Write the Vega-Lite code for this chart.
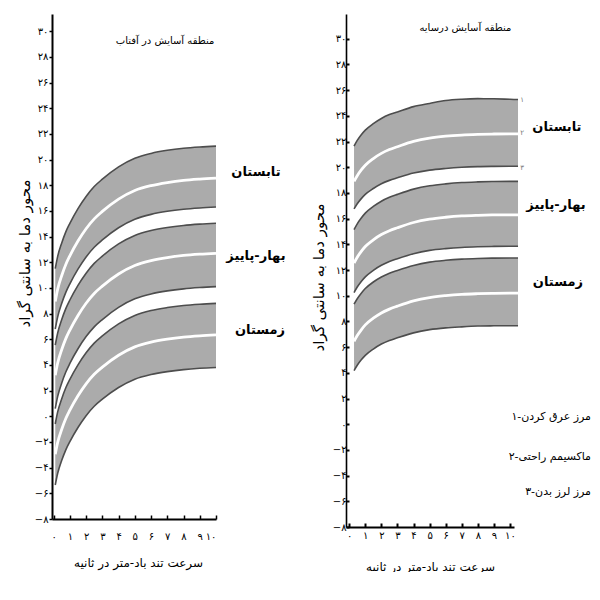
{
  "$schema": "https://vega.github.io/schema/vega-lite/v6.json",
  "background": "white",
  "padding": {"left": 17, "top": 14, "right": 0, "bottom": 0},
  "spacing": 130,
  "bounds": "flush",
  "config": {
    "view": {"stroke": null},
    "font": "DejaVu Sans",
    "axis": {"grid": false, "labelColor": "black", "titleColor": "black", "tickColor": "black", "domainColor": "black", "titleFontWeight": "normal", "labelFont": "DejaVu Sans", "titleFont": "DejaVu Sans"}
  },
  "datasets": {
    "left": [
      {"s":"S","x":0.1,"a":11.5,"b":8.95,"c":6.8},{"s":"S","x":0.25,"a":12.46,"b":9.91,"c":7.75},{"s":"S","x":0.5,"a":13.51,"b":10.97,"c":8.8},{"s":"S","x":0.75,"a":14.37,"b":11.83,"c":9.65},{"s":"S","x":1,"a":15.03,"b":12.5,"c":10.32},{"s":"S","x":1.5,"a":16.18,"b":13.65,"c":11.46},{"s":"S","x":2,"a":17.13,"b":14.61,"c":12.41},{"s":"S","x":2.5,"a":17.9,"b":15.38,"c":13.17},{"s":"S","x":3,"a":18.47,"b":15.96,"c":13.74},{"s":"S","x":4,"a":19.43,"b":16.92,"c":14.69},{"s":"S","x":5,"a":20.1,"b":17.59,"c":15.35},{"s":"S","x":6,"a":20.48,"b":17.97,"c":15.73},{"s":"S","x":7,"a":20.72,"b":18.21,"c":15.97},{"s":"S","x":8,"a":20.88,"b":18.38,"c":16.13},{"s":"S","x":9,"a":20.98,"b":18.48,"c":16.23},{"s":"S","x":10,"a":21.05,"b":18.55,"c":16.3},
      {"s":"B","x":0.1,"a":5.54,"b":3.2,"c":0.6},{"s":"B","x":0.25,"a":6.49,"b":4.15,"c":1.55},{"s":"B","x":0.5,"a":7.54,"b":5.2,"c":2.6},{"s":"B","x":0.75,"a":8.39,"b":6.05,"c":3.45},{"s":"B","x":1,"a":9.06,"b":6.72,"c":4.12},{"s":"B","x":1.5,"a":10.2,"b":7.86,"c":5.26},{"s":"B","x":2,"a":11.15,"b":8.81,"c":6.21},{"s":"B","x":2.5,"a":11.91,"b":9.57,"c":6.97},{"s":"B","x":3,"a":12.48,"b":10.14,"c":7.54},{"s":"B","x":4,"a":13.43,"b":11.09,"c":8.49},{"s":"B","x":5,"a":14.09,"b":11.75,"c":9.15},{"s":"B","x":6,"a":14.47,"b":12.13,"c":9.53},{"s":"B","x":7,"a":14.71,"b":12.37,"c":9.77},{"s":"B","x":8,"a":14.87,"b":12.53,"c":9.93},{"s":"B","x":9,"a":14.97,"b":12.63,"c":10.03},{"s":"B","x":10,"a":15.04,"b":12.7,"c":10.1},
      {"s":"Z","x":0.1,"a":-0.6,"b":-2.96,"c":-5.35},{"s":"Z","x":0.25,"a":0.34,"b":-2.03,"c":-4.44},{"s":"Z","x":0.5,"a":1.37,"b":-1.01,"c":-3.43},{"s":"Z","x":0.75,"a":2.22,"b":-0.17,"c":-2.61},{"s":"Z","x":1,"a":2.88,"b":0.48,"c":-1.97},{"s":"Z","x":1.5,"a":4.01,"b":1.6,"c":-0.87},{"s":"Z","x":2,"a":4.95,"b":2.53,"c":0.05},{"s":"Z","x":2.5,"a":5.7,"b":3.27,"c":0.78},{"s":"Z","x":3,"a":6.26,"b":3.83,"c":1.33},{"s":"Z","x":4,"a":7.2,"b":4.76,"c":2.24},{"s":"Z","x":5,"a":7.86,"b":5.41,"c":2.89},{"s":"Z","x":6,"a":8.24,"b":5.78,"c":3.25},{"s":"Z","x":7,"a":8.47,"b":6.01,"c":3.48},{"s":"Z","x":8,"a":8.63,"b":6.17,"c":3.64},{"s":"Z","x":9,"a":8.73,"b":6.27,"c":3.74},{"s":"Z","x":10,"a":8.8,"b":6.34,"c":3.8}
    ],
    "right": [
      {"s":"S","x":0.3,"a":21.65,"b":18.9,"c":16.76},{"s":"S","x":0.5,"a":22.09,"b":19.34,"c":17.16},{"s":"S","x":0.75,"a":22.53,"b":19.79,"c":17.56},{"s":"S","x":1,"a":22.89,"b":20.16,"c":17.89},{"s":"S","x":1.5,"a":23.4,"b":20.68,"c":18.35},{"s":"S","x":2,"a":23.8,"b":21.08,"c":18.72},{"s":"S","x":2.5,"a":24.1,"b":21.38,"c":18.98},{"s":"S","x":3,"a":24.31,"b":21.6,"c":19.18},{"s":"S","x":4,"a":24.72,"b":22.01,"c":19.55},{"s":"S","x":5,"a":24.97,"b":22.27,"c":19.78},{"s":"S","x":6,"a":25.2,"b":22.42,"c":19.91},{"s":"S","x":7,"a":25.3,"b":22.51,"c":20.0},{"s":"S","x":8,"a":25.34,"b":22.56,"c":20.05},{"s":"S","x":9,"a":25.33,"b":22.59,"c":20.07},{"s":"S","x":10,"a":25.29,"b":22.6,"c":20.08},{"s":"S","x":10.5,"a":25.27,"b":22.6,"c":20.08},
      {"s":"B","x":0.3,"a":15.15,"b":12.55,"c":10.25},{"s":"B","x":0.5,"a":15.6,"b":13.0,"c":10.68},{"s":"B","x":0.75,"a":16.05,"b":13.45,"c":11.11},{"s":"B","x":1,"a":16.43,"b":13.83,"c":11.47},{"s":"B","x":1.5,"a":16.95,"b":14.35,"c":11.98},{"s":"B","x":2,"a":17.36,"b":14.76,"c":12.37},{"s":"B","x":2.5,"a":17.66,"b":15.06,"c":12.66},{"s":"B","x":3,"a":17.89,"b":15.29,"c":12.88},{"s":"B","x":4,"a":18.3,"b":15.7,"c":13.27},{"s":"B","x":5,"a":18.56,"b":15.96,"c":13.53},{"s":"B","x":6,"a":18.71,"b":16.11,"c":13.67},{"s":"B","x":7,"a":18.81,"b":16.21,"c":13.76},{"s":"B","x":8,"a":18.86,"b":16.26,"c":13.81},{"s":"B","x":9,"a":18.89,"b":16.29,"c":13.84},{"s":"B","x":10,"a":18.9,"b":16.3,"c":13.85},{"s":"B","x":10.5,"a":18.9,"b":16.3,"c":13.85},
      {"s":"Z","x":0.3,"a":9.34,"b":6.45,"c":4.17},{"s":"Z","x":0.5,"a":9.77,"b":6.9,"c":4.59},{"s":"Z","x":0.75,"a":10.2,"b":7.35,"c":5.01},{"s":"Z","x":1,"a":10.56,"b":7.73,"c":5.36},{"s":"Z","x":1.5,"a":11.07,"b":8.25,"c":5.85},{"s":"Z","x":2,"a":11.46,"b":8.66,"c":6.24},{"s":"Z","x":2.5,"a":11.75,"b":8.96,"c":6.52},{"s":"Z","x":3,"a":11.97,"b":9.19,"c":6.73},{"s":"Z","x":4,"a":12.36,"b":9.6,"c":7.11},{"s":"Z","x":5,"a":12.62,"b":9.86,"c":7.36},{"s":"Z","x":6,"a":12.76,"b":10.01,"c":7.5},{"s":"Z","x":7,"a":12.85,"b":10.11,"c":7.58},{"s":"Z","x":8,"a":12.9,"b":10.16,"c":7.64},{"s":"Z","x":9,"a":12.93,"b":10.19,"c":7.66},{"s":"Z","x":10,"a":12.94,"b":10.2,"c":7.67},{"s":"Z","x":10.5,"a":12.94,"b":10.2,"c":7.67}
    ],
    "leftText": [
      {"k":"title","x":6.86,"y":29.26,"t":"منطقه آسایش در آفتاب"},
      {"k":"season","x":12.46,"y":19.03,"t":"تابستان"},
      {"k":"season","x":12.46,"y":12.49,"t":"بهار-پاییز"},
      {"k":"season","x":12.71,"y":6.73,"t":"زمستان"}
    ],
    "rightText": [
      {"k":"title","x":7.23,"y":30.84,"t":"منطقه آسایش درسایه"},
      {"k":"season","x":12.92,"y":23.15,"t":"تابستان"},
      {"k":"season","x":12.86,"y":17.05,"t":"بهار-پاییز"},
      {"k":"season","x":12.98,"y":11.08,"t":"زمستان"},
      {"k":"legend","x":15.04,"y":0.57,"t":"مرز عرق کردن-۱"},
      {"k":"legend","x":15.04,"y":-2.55,"t":"ماکسیمم راحتی-۲"},
      {"k":"legend","x":15.04,"y":-5.27,"t":"مرز لرز بدن-۳"},
      {"k":"num","x":10.75,"y":25.23,"t":"۱"},
      {"k":"num","x":10.75,"y":22.66,"t":"۲"},
      {"k":"num","x":10.75,"y":19.94,"t":"۳"}
    ]
  },
  "hconcat": [
    {
      "width": 164,
      "height": 505,
      "encoding": {
        "x": {"field": "x", "type": "quantitative", "scale": {"domain": [-0.1, 10], "nice": false, "zero": false},
          "axis": {"values": [0,1,2,3,4,5,6,7,8,9,10], "format": "d",
            "labelExpr": "replace(replace(replace(replace(replace(replace(replace(replace(replace(replace(datum.label,/0/g,'۰'),/1/g,'۱'),/2/g,'۲'),/3/g,'۳'),/4/g,'۴'),/5/g,'۵'),/6/g,'۶'),/7/g,'۷'),/8/g,'۸'),/9/g,'۹')",
            "tickSize": -4, "tickWidth": 1.5, "domainWidth": 2, "labelPadding": 16, "labelFontSize": 10,
            "title": "سرعت تند باد-متر در ثانیه", "titleFontSize": 12, "titleX": 86, "titleY": 43, "titleBaseline": "middle", "titleAlign": "center"}},
        "y": {"field": "a", "type": "quantitative", "scale": {"domain": [-8, 31.34], "nice": false, "zero": false},
          "axis": {"values": [-8,-6,-4,-2,0,2,4,6,8,10,12,14,16,18,20,22,24,26,28,30], "format": "d",
            "labelExpr": "replace(replace(replace(replace(replace(replace(replace(replace(replace(replace(datum.label,/0/g,'۰'),/1/g,'۱'),/2/g,'۲'),/3/g,'۳'),/4/g,'۴'),/5/g,'۵'),/6/g,'۶'),/7/g,'۷'),/8/g,'۸'),/9/g,'۹')",
            "tickSize": 3, "tickWidth": 1.5, "domainWidth": 2, "labelPadding": 1, "labelFontSize": 10,
            "title": "محور دما به سانتی گراد", "titleFontSize": 15, "titleX": -28, "titleY": 239, "titleBaseline": "middle", "titleAlign": "center"}}
      },
      "layer": [
        {"data": {"name": "left"}, "mark": {"type": "area", "fill": "#ababab", "interpolate": "monotone"},
          "encoding": {"y2": {"field": "c"}, "detail": {"field": "s"}}},
        {"data": {"name": "left"}, "mark": {"type": "line", "stroke": "#4d4d4d", "strokeWidth": 1.6, "interpolate": "monotone"},
          "encoding": {"detail": {"field": "s"}}},
        {"data": {"name": "left"}, "mark": {"type": "line", "stroke": "#4d4d4d", "strokeWidth": 1.6, "interpolate": "monotone"},
          "encoding": {"y": {"field": "c", "type": "quantitative", "title": "محور دما به سانتی گراد"}, "detail": {"field": "s"}}},
        {"data": {"name": "left"}, "mark": {"type": "line", "stroke": "white", "strokeWidth": 2.8, "interpolate": "monotone"},
          "encoding": {"y": {"field": "b", "type": "quantitative", "title": "محور دما به سانتی گراد"}, "detail": {"field": "s"}}},
        {"data": {"name": "leftText"}, "transform": [{"filter": "datum.k == 'title'"}],
          "mark": {"type": "text", "fontSize": 10, "color": "black", "align": "center", "baseline": "middle"},
          "encoding": {"y": {"field": "y", "type": "quantitative", "title": "محور دما به سانتی گراد"}, "text": {"field": "t"}}},
        {"data": {"name": "leftText"}, "transform": [{"filter": "datum.k == 'season'"}],
          "mark": {"type": "text", "fontSize": 13, "fontWeight": "bold", "color": "black", "align": "center", "baseline": "middle"},
          "encoding": {"y": {"field": "y", "type": "quantitative", "title": "محور دما به سانتی گراد"}, "text": {"field": "t"}}}
      ]
    },
    {
      "width": 168,
      "height": 513,
      "encoding": {
        "x": {"field": "x", "type": "quantitative", "scale": {"domain": [-0.2, 10.25], "nice": false, "zero": false},
          "axis": {"values": [0,1,2,3,4,5,6,7,8,9,10], "format": "d",
            "labelExpr": "replace(replace(replace(replace(replace(replace(replace(replace(replace(replace(datum.label,/0/g,'۰'),/1/g,'۱'),/2/g,'۲'),/3/g,'۳'),/4/g,'۴'),/5/g,'۵'),/6/g,'۶'),/7/g,'۷'),/8/g,'۸'),/9/g,'۹')",
            "tickSize": -4, "tickWidth": 2, "domainWidth": 2, "labelPadding": 7, "labelFontSize": 10,
            "title": "سرعت تند باد-متر در ثانیه", "titleFontSize": 12, "titleX": 84, "titleY": 39, "titleBaseline": "middle", "titleAlign": "center"}},
        "y": {"field": "a", "type": "quantitative", "scale": {"domain": [-8, 31.93], "nice": false, "zero": false},
          "axis": {"values": [-8,-6,-4,-2,0,2,4,6,8,10,12,14,16,18,20,22,24,26,28,30], "format": "d",
            "labelExpr": "replace(replace(replace(replace(replace(replace(replace(replace(replace(replace(datum.label,/0/g,'۰'),/1/g,'۱'),/2/g,'۲'),/3/g,'۳'),/4/g,'۴'),/5/g,'۵'),/6/g,'۶'),/7/g,'۷'),/8/g,'۸'),/9/g,'۹')",
            "tickSize": -3, "tickWidth": 2, "domainWidth": 1.6, "labelPadding": 3, "labelFontSize": 10,
            "title": "محور دما به سانتی گراد", "titleFontSize": 15, "titleX": -28, "titleY": 263, "titleBaseline": "middle", "titleAlign": "center"}}
      },
      "layer": [
        {"data": {"name": "right"}, "mark": {"type": "area", "fill": "#ababab", "interpolate": "monotone"},
          "encoding": {"y2": {"field": "c"}, "detail": {"field": "s"}}},
        {"data": {"name": "right"}, "mark": {"type": "line", "stroke": "#4d4d4d", "strokeWidth": 1.6, "interpolate": "monotone"},
          "encoding": {"detail": {"field": "s"}}},
        {"data": {"name": "right"}, "mark": {"type": "line", "stroke": "#4d4d4d", "strokeWidth": 1.6, "interpolate": "monotone"},
          "encoding": {"y": {"field": "c", "type": "quantitative", "title": "محور دما به سانتی گراد"}, "detail": {"field": "s"}}},
        {"data": {"name": "right"}, "mark": {"type": "line", "stroke": "white", "strokeWidth": 2.8, "interpolate": "monotone"},
          "encoding": {"y": {"field": "b", "type": "quantitative", "title": "محور دما به سانتی گراد"}, "detail": {"field": "s"}}},
        {"data": {"name": "rightText"}, "transform": [{"filter": "datum.k == 'title'"}],
          "mark": {"type": "text", "fontSize": 10, "color": "black", "align": "center", "baseline": "middle"},
          "encoding": {"y": {"field": "y", "type": "quantitative", "title": "محور دما به سانتی گراد"}, "text": {"field": "t"}}},
        {"data": {"name": "rightText"}, "transform": [{"filter": "datum.k == 'season'"}],
          "mark": {"type": "text", "fontSize": 13, "fontWeight": "bold", "color": "black", "align": "center", "baseline": "middle"},
          "encoding": {"y": {"field": "y", "type": "quantitative", "title": "محور دما به سانتی گراد"}, "text": {"field": "t"}}},
        {"data": {"name": "rightText"}, "transform": [{"filter": "datum.k == 'legend'"}],
          "mark": {"type": "text", "fontSize": 11, "color": "black", "align": "right", "baseline": "middle"},
          "encoding": {"y": {"field": "y", "type": "quantitative", "title": "محور دما به سانتی گراد"}, "text": {"field": "t"}}},
        {"data": {"name": "rightText"}, "transform": [{"filter": "datum.k == 'num'"}],
          "mark": {"type": "text", "fontSize": 7, "color": "#777777", "align": "center", "baseline": "middle"},
          "encoding": {"y": {"field": "y", "type": "quantitative", "title": "محور دما به سانتی گراد"}, "text": {"field": "t"}}}
      ]
    }
  ]
}
